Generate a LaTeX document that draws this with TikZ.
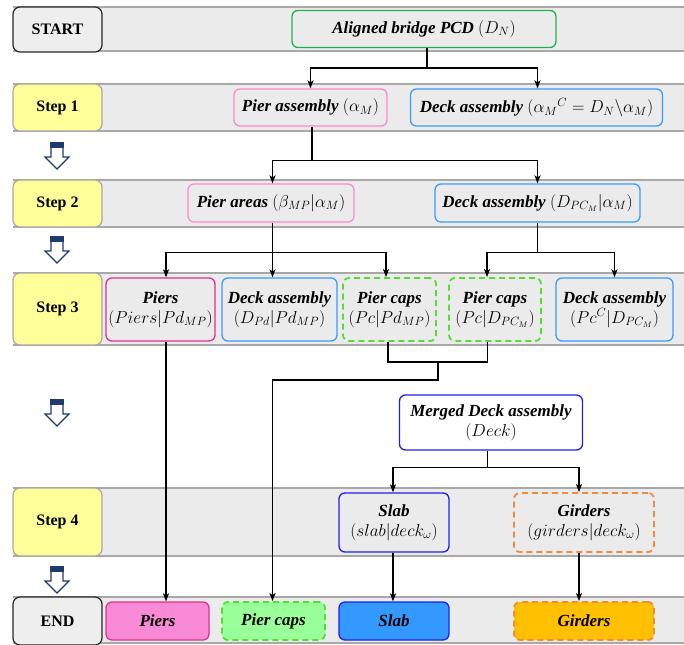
\documentclass[tikz,border=0pt]{standalone}
\usepackage{fontspec}
\setmainfont{Liberation Serif}
\usetikzlibrary{arrows.meta,calc}
\definecolor{bandgray}{HTML}{EBEBEB}
\definecolor{bandline}{HTML}{A8A8A8}
\definecolor{labyellow}{HTML}{FFFF99}
\definecolor{labgray}{HTML}{EEEEEE}
\definecolor{cgreen}{HTML}{22B150}
\definecolor{cpink}{HTML}{FF8AD0}
\definecolor{clblue}{HTML}{3D9BFF}
\definecolor{cmag}{HTML}{E2308A}
\definecolor{cdgreen}{HTML}{55DD33}
\definecolor{cblue}{HTML}{1F1FF0}
\definecolor{corange}{HTML}{F08A3C}
\definecolor{navy}{HTML}{1F3A6E}
\definecolor{fpink}{HTML}{F98AD6}
\definecolor{fgreen}{HTML}{99FF99}
\definecolor{fblue}{HTML}{3399FF}
\definecolor{fgold}{HTML}{FFC000}
\begin{document}
\begin{tikzpicture}[x=1pt,y=-1pt,
  txt/.style={font=\fontsize{17}{20}\selectfont\bfseries\itshape},
  nbox/.style={draw, rounded corners=6pt, line width=1.3pt, align=center, inner sep=0pt, txt},
  dsh/.style={line width=1.8pt, dash pattern=on 6pt off 4pt},
  lab/.style={rounded corners=7pt, line width=1.2pt, minimum width=89pt, inner sep=0pt,
    font=\fontsize{16}{19}\selectfont\bfseries},
  ylab/.style={lab, draw=bandline, fill=labyellow},
  glab/.style={lab, draw=black!85, fill=labgray},
  ln/.style={line width=1.5pt, black},
  arr/.style={ln, -{Stealth[length=8pt,width=6pt,inset=2pt]}},
]
\useasboundingbox (0,0) rectangle (684,644);
% bands
\foreach \a/\b in {7/51,84/131,180/227,273/345,488/556,597/643}{
  \fill[bandgray] (13,\a) rectangle (684,\b);
  \draw[bandline, line width=1.5pt] (13,\a) -- (684,\a) (13,\b) -- (684,\b);
}
% step labels
\node[glab, minimum height=45pt] (start) at (57.5,29.5) {START};
\node[ylab, minimum height=47pt] (s1) at (57.5,107.5) {Step 1};
\node[ylab, minimum height=47pt] (s2) at (57.5,203.5) {Step 2};
\node[ylab, minimum height=72pt] (s3) at (57.5,309) {Step 3};
\node[ylab, minimum height=68pt] (s4) at (57.5,522) {Step 4};
\node[glab, minimum height=48pt] (send) at (57.5,621) {END};
% hollow step arrows
\foreach \y in {143,237,400,567}{
  \draw[navy, fill=white, line width=1.1pt] (51,\y+4) -- (51,\y+14) -- (45,\y+14) -- (57,\y+26) -- (69,\y+14) -- (63,\y+14) -- (63,\y+4) -- cycle;
  \draw[navy, fill=navy, line width=1.1pt] (51,\y) rectangle (63,\y+4);
}
% nodes
\node[nbox, draw=cgreen, minimum width=264pt, minimum height=37pt] (aligned) at (424,29) {Aligned bridge PCD $(D_N)$};
\node[nbox, draw=cpink, minimum width=153pt, minimum height=37pt] (pierA) at (310.5,107.5) {Pier assembly $(\alpha_M)$};
\node[nbox, draw=clblue, minimum width=252pt, minimum height=37pt] (deckA) at (536.5,107.5) {Deck assembly $({\alpha_M}^C = D_N\backslash\alpha_M)$};
\node[nbox, draw=cpink, minimum width=166pt, minimum height=38pt] (pierAreas) at (271,203) {Pier areas $(\beta_{MP}|\alpha_M)$};
\node[nbox, draw=clblue, minimum width=205pt, minimum height=38pt] (deckB) at (537.5,203) {Deck assembly $(D_{PC_M}|\alpha_M)$};
\node[nbox, draw=cmag, minimum width=109pt, minimum height=63pt] (piers3) at (160.5,309.5) {Piers\\$(Piers|Pd_{MP})$};
\node[nbox, draw=clblue, minimum width=115pt, minimum height=63pt] (deck3a) at (279.5,309.5) {Deck assembly\\$(D_{Pd}|Pd_{MP})$};
\node[nbox, draw=cdgreen, dsh, minimum width=93pt, minimum height=63pt] (caps3a) at (389.5,309.5) {Pier caps\\$(Pc|Pd_{MP})$};
\node[nbox, draw=cdgreen, dsh, minimum width=92pt, minimum height=63pt] (caps3b) at (495,309.5) {Pier caps\\$(Pc|D_{PC_M})$};
\node[nbox, draw=clblue, minimum width=117pt, minimum height=63pt] (deck3b) at (614.5,309.5) {Deck assembly\\$(Pc^C|D_{PC_M})$};
\node[nbox, draw=cblue, fill=white, minimum width=183pt, minimum height=55pt] (merged) at (491,422.5) {Merged Deck assembly\\$(Deck)$};
\node[nbox, draw=cblue, minimum width=110pt, minimum height=59pt] (slab) at (394,522.5) {Slab\\$(slab|deck_\omega)$};
\node[nbox, draw=corange, dsh, minimum width=140pt, minimum height=59pt] (girders) at (584,522.5) {Girders\\$(girders|deck_\omega)$};
\node[nbox, draw=cmag, fill=fpink, minimum width=103pt, minimum height=38pt] (endPiers) at (157.5,621) {Piers};
\node[nbox, draw=cdgreen, dsh, fill=fgreen, minimum width=103pt, minimum height=38pt] (endCaps) at (273.5,621) {Pier caps};
\node[nbox, draw=cblue, fill=fblue, minimum width=110pt, minimum height=38pt] (endSlab) at (394,621) {Slab};
\node[nbox, draw=corange, dsh, fill=fgold, minimum width=140pt, minimum height=38pt] (endGirders) at (584,621) {Girders};
% connectors: start -> step 1
\coordinate (j1) at ($(aligned.south)+(3,20)$);
\draw[ln] (aligned.south -| j1) -- (j1);
\draw[arr] (j1) -| (pierA.north);
\draw[arr] (j1) -| ([xshift=1pt]deckA.north);
% step 1 -> step 2
\coordinate (j2) at ($(pierA.south)+(1.5,34)$);
\draw[ln] (pierA.south -| j2) -- (j2);
\draw[arr] (j2) -| ([xshift=1.5pt]pierAreas.north);
\draw[arr] (j2) -| (deckB.north);
% step 2 -> step 3
\coordinate (j3) at ($(pierAreas.south)+(1.5,30)$);
\draw[ln] (pierAreas.south -| j3) -- (j3);
\draw[arr] (j3) -| ([xshift=5.5pt]piers3.north);
\draw[arr] (j3) -- (j3 |- deck3a.north);
\draw[arr] (j3) -| ([xshift=-3.5pt]caps3a.north);
\coordinate (j4) at ($(deckB.south)+(0,30)$);
\draw[ln] (deckB.south) -- (j4);
\draw[arr] (j4) -| ([xshift=-8pt]caps3b.north);
\draw[arr] (j4) -| (deck3b.north);
% merge pier caps
\coordinate (m1) at ($(caps3a.south)+(-1.5,20)$);
\coordinate (m2) at ($(caps3b.south)+(-7.5,20)$);
\draw[ln] ([xshift=-1.5pt]caps3a.south) -- (m1) -- (m2) -- ([xshift=-7.5pt]caps3b.south);
\coordinate (m3) at ($(m1)!0.5!(m2)$);
\draw[arr] (m3) -- ++(0,18) -| (endCaps.north -| j3);
% piers straight down
\draw[arr] ([xshift=5.5pt]piers3.south) -- ([xshift=5.5pt]piers3.south |- endPiers.north);
% merged -> step 4
\coordinate (j5) at ($(merged.south)+(-3.5,17)$);
\draw[ln] (merged.south -| j5) -- (j5);
\draw[arr] (j5) -| ([xshift=-1pt]slab.north);
\draw[arr] (j5) -| ([xshift=-5pt]girders.north);
% step 4 -> end
\draw[arr] ([xshift=-1pt]slab.south) -- ([xshift=-1pt]slab.south |- endSlab.north);
\draw[arr] ([xshift=-5pt]girders.south) -- ([xshift=-5pt]girders.south |- endGirders.north);
\end{tikzpicture}
\end{document}
